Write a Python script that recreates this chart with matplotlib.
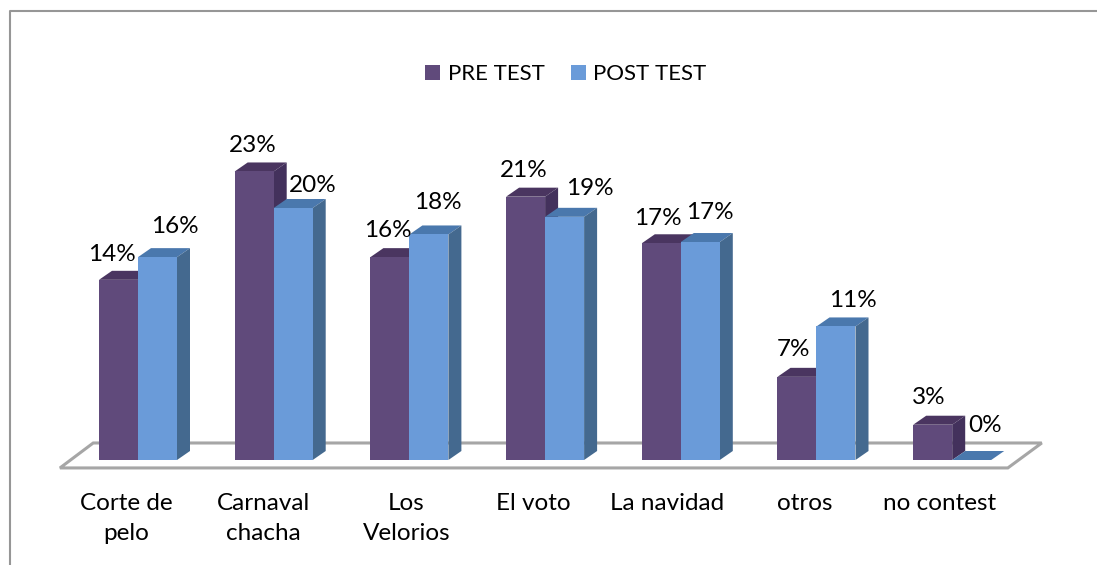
import matplotlib
matplotlib.use('Agg')
import matplotlib.pyplot as plt
from matplotlib.patches import Polygon, Rectangle
from matplotlib.lines import Line2D

plt.rcParams['font.family'] = ['Lato', 'DejaVu Sans']

categorias = ['Corte de\npelo', 'Carnaval\nchacha', 'Los\nVelorios', 'El voto',
              'La navidad', 'otros', 'no contest']
pre_test = [14.3, 22.9, 16.1, 20.9, 17.2, 6.6, 2.8]
post_test = [16.1, 20.0, 17.9, 19.3, 17.3, 10.6, 0.0]
pre_labels = ['14%', '23%', '16%', '21%', '17%', '7%', '3%']
post_labels = ['16%', '20%', '18%', '19%', '17%', '11%', '0%']

# ajustes manuales de etiquetas, en px
pre_dx = [-7, -1, -2, -2, -3, -3, -4]
pre_dy = [16, 17, 18, 17, 16, 18, 18]
post_dx = [17, 20, 9, 25, 10, 17, 13]
post_dy = [22, 14, 23, 19, 21, 17, 26]
cat_dx = [-12, -10, -3, -12, -14, -12, -13]

W, H = 1097, 565
PX_X = 135.7   # px por categoria
PX_Y = 12.6    # px por 1%
DX = 13 / PX_X
DY = 9 / PX_Y
BAR = 39 / PX_X
FS = 17.5

fig = plt.figure(figsize=(W / 100, H / 100), dpi=100)
left = 70.15
base = 460
ax = fig.add_axes([left / W, (H - base) / H, 7 * PX_X / W, 25 * PX_Y / H])
ax.set_xlim(-0.5, 6.5)
ax.set_ylim(0, 25)
ax.axis('off')


def barra_3d(x, alto, frente, topo, lado):
    """Dibuja una barra con profundidad: frente, tapa y lado"""
    ax.add_patch(Polygon([(x, alto), (x + DX, alto + DY), (x + BAR + DX, alto + DY), (x + BAR, alto)],
                         closed=True, fc=topo, ec='none', clip_on=False, zorder=3))
    ax.add_patch(Polygon([(x + BAR, 0), (x + BAR + DX, DY), (x + BAR + DX, alto + DY), (x + BAR, alto)],
                         closed=True, fc=lado, ec='none', clip_on=False, zorder=3))
    if alto > 0:
        ax.add_patch(Rectangle((x, 0), BAR, alto, fc=frente, ec='none', clip_on=False, zorder=4))


def etiqueta(x, y, texto, dx, dy):
    ax.annotate(texto, xy=(x, y), xytext=(dx, dy), textcoords='offset pixels', ha='center',
                va='center', fontsize=FS, color='black', zorder=6, annotation_clip=False)


# piso del grafico
piso = Polygon([(-0.575, -0.63), (-0.33, 1.35), (6.66, 1.35), (6.41, -0.63)], closed=True,
               fc='white', ec='#a6a6a6', lw=2.2, clip_on=False, zorder=1)
ax.add_patch(piso)

for i in range(len(categorias)):
    x0 = i - BAR
    barra_3d(x0, pre_test[i], '#604a7b', '#4a3560', '#43315c')
    barra_3d(i, post_test[i], '#6a9bd9', '#4a78ad', '#44698f')
    etiqueta(x0 + BAR / 2, pre_test[i] + DY, pre_labels[i], pre_dx[i], pre_dy[i])
    etiqueta(i + BAR / 2, post_test[i] + DY, post_labels[i], post_dx[i], post_dy[i])
    ax.annotate(categorias[i], xy=(i, 0), xytext=(cat_dx[i], -33), textcoords='offset pixels',
                ha='center', va='top', fontsize=FS, color='black', linespacing=1.5,
                annotation_clip=False)

handles = [Rectangle((0, 0), 1, 1, fc='#604a7b'), Rectangle((0, 0), 1, 1, fc='#6a9bd9')]
fig.legend(handles, ['PRE TEST', 'POST TEST'], loc='center', bbox_to_anchor=(566 / W, 1 - 74 / H),
           ncol=2, frameon=False, fontsize=16, handlelength=0.68, handleheight=0.68,
           handletextpad=0.32, columnspacing=1.2, borderpad=0, borderaxespad=0)

# borde del grafico: solo arriba y a la izquierda
borde = '#969696'
fig.add_artist(Line2D([9.5 / W, 9.5 / W, 1], [0, 1 - 11 / H, 1 - 11 / H], color=borde, lw=1.5))

fig.savefig('out.png', dpi=100, facecolor='white')
